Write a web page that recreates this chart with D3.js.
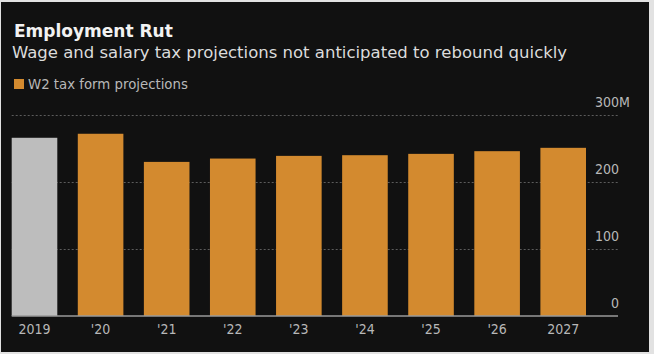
<!DOCTYPE html>
<html>
<head>
<meta charset="utf-8">
<script src="https://cdn.jsdelivr.net/npm/d3@7"></script>
<style>
  body { margin: 0; background: #e4e4e4; }
  svg { display: block; }
  text { font-family: "DejaVu Sans Condensed", "DejaVu Sans", sans-serif; font-stretch: condensed; }
</style>
</head>
<body>
<div id="chart-area"></div>
<script>
// data (millions of W2 forms)
var years = ["2019", "'20", "'21", "'22", "'23", "'24", "'25", "'26", "2027"];
var projections = [266, 272, 230, 235, 239, 240, 242, 246, 251];
var yTicks = [0, 100, 200, 300];

var width = 654;
var height = 354;

var svg = d3.select('#chart-area')
    .append('svg')
        .attr('width', width)
        .attr('height', height);

// dark panel with light frame
svg.append('rect')
    .attr('x', 0).attr('y', 0)
    .attr('width', width).attr('height', height)
    .attr('fill', '#e2e2e2');
svg.append('rect')
    .attr('x', 1).attr('y', 2)
    .attr('width', 648).attr('height', 350)
    .attr('fill', '#111111');

svg.append('text')
    .attr('x', 14).attr('y', 36.7)
    .attr('font-size', '17px')
    .attr('font-weight', 'bold')
    .style('font-stretch', 'normal')
    .style('font-family', '"DejaVu Sans", sans-serif')
    .attr('fill', '#f2f2f2')
    .text('Employment Rut');

svg.append('text')
    .attr('x', 12).attr('y', 57.7)
    .attr('font-size', '16.5px')
    .style('font-stretch', 'normal')
    .style('font-family', '"DejaVu Sans", sans-serif')
    .attr('fill', '#dcdcdc')
    .text('Wage and salary tax projections not anticipated to rebound quickly');

// legend
svg.append('rect')
    .attr('x', 14).attr('y', 79)
    .attr('width', 10).attr('height', 10)
    .attr('fill', '#d38a2f');
svg.append('text')
    .attr('x', 28).attr('y', 88.5)
    .attr('font-size', '13.3px')
    .style('font-stretch', 'normal')
    .style('font-family', '"DejaVu Sans", sans-serif')
    .attr('fill', '#b8b8b8')
    .text('W2 tax form projections');

var left = 11.7, right = 618, barRight = 586;

var x = d3.scaleBand()
    .domain(years)
    .range([left, barRight])
    .paddingInner(0.31)
    .paddingOuter(0);

var y = d3.scaleLinear().domain([0, 300]).range([316, 115]);

// gridlines + labels on the right
var yAxis = d3.axisRight(y)
    .tickValues(yTicks)
    .tickSize(right - left)
    .tickFormat(function(d) { return d; });

var gy = svg.append('g')
    .attr('class', 'y axis')
    .attr('transform', 'translate(' + left + ',0)')
    .call(yAxis);
gy.select('.domain').remove();
gy.selectAll('.tick line')
    .attr('stroke', '#5c5c5c')
    .attr('stroke-dasharray', '2,2')
    .attr('stroke-width', 1);
gy.selectAll('.tick text')
    .attr('x', right - left + 1)
    .attr('dy', '-8.5')
    .attr('text-anchor', 'end')
    .attr('font-size', '14px')
    .attr('fill', '#b8b8b8');
gy.selectAll('.tick')
    .filter(function(d) { return d === 300; })
    .append('text')
        .attr('x', right - left + 1)
        .attr('dy', '-8.5')
        .attr('text-anchor', 'start')
        .attr('font-size', '14px')
        .attr('fill', '#b8b8b8')
        .text('M');
gy.selectAll('.tick')
    .filter(function(d) { return d === 0; })
    .select('line').remove();

// bars
svg.append('g').selectAll('rect')
    .data(projections)
    .enter()
    .append('rect')
        .attr('x', function(d, i) { return x(years[i]); })
        .attr('y', function(d) { return y(d); })
        .attr('width', x.bandwidth())
        .attr('height', function(d) { return y(0) - y(d); })
        .attr('fill', function(d, i) { return i === 0 ? '#bdbdbd' : '#d38a2f'; });

// baseline and year labels
var xAxis = d3.axisBottom(x).tickSize(0).tickPadding(8);
var gx = svg.append('g')
    .attr('class', 'x axis')
    .attr('transform', 'translate(0,' + y(0) + ')')
    .call(xAxis);
gx.select('.domain')
    .attr('d', 'M' + left + ',0H' + right)
    .attr('stroke', '#9a9a9a')
    .attr('stroke-width', 1.5);
gx.selectAll('text')
    .attr('font-size', '14px')
    .attr('fill', '#b8b8b8')
    .attr('dy', '0.71em');
</script>
</body>
</html>
